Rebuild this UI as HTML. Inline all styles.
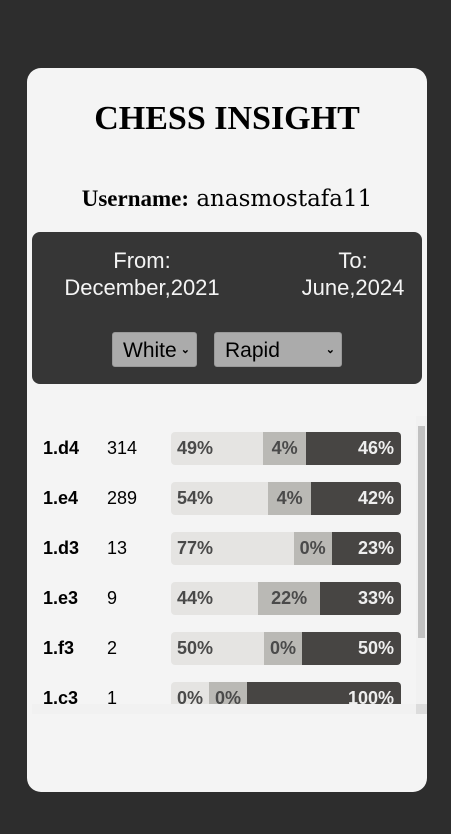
<!DOCTYPE html>
<html><head><meta charset="utf-8"><style>
body{margin:0;width:451px;height:834px;background:#2d2d2d;position:relative;overflow:hidden;font-family:"Liberation Sans",sans-serif}
#card{position:absolute;left:27px;top:68px;width:400px;height:724px;background:#f4f4f4;border-radius:14px}
#title{position:absolute;left:27px;width:400px;top:99px;text-align:center;font:bold 34px "Liberation Serif",serif;color:#000;margin:0;line-height:40px}
#user{position:absolute;left:27px;width:400px;top:186px;text-align:center;font:23px "DejaVu Serif","Liberation Serif",serif;color:#000}
#panel{position:absolute;left:32px;top:232px;width:390px;height:152px;background:#363636;border-radius:8px;color:#f4f4f4}
.dt{position:absolute;top:15px;text-align:center;font-size:22px;line-height:27px;transform:translateX(-50%);white-space:nowrap}
.sel{position:absolute;top:100px;height:35px;background:#ababab;border:1px solid #999;border-radius:3px;color:#000;font-size:21px;line-height:35px;box-sizing:border-box;padding-left:10px}
.sel span.ch{position:absolute;right:6px;top:0;font-size:11px;font-weight:bold}
#scroll{position:absolute;left:32px;top:416px;width:384px;height:288px;overflow:hidden}
.row{position:absolute;left:0;height:33px;width:384px}
.mv{position:absolute;left:11px;top:0;line-height:33px;font-weight:bold;font-size:18px;color:#000}
.ct{position:absolute;left:75px;top:0;line-height:33px;font-size:18px;color:#000}
.bar{position:absolute;left:139px;top:0;width:230px;height:33px;border-radius:4px;overflow:hidden;display:flex}
.seg{height:33px;line-height:33px;font-weight:bold;font-size:18px;box-sizing:border-box;white-space:nowrap;flex:none}
.w{background:#e5e4e2;color:#4a4a4a;padding-left:6px}
.d{background:#bab9b5;color:#4a4a4a;text-align:center}
.b{background:#474543;color:#eee;text-align:right;padding-right:7px}
#vs{position:absolute;left:416px;top:416px;width:11px;height:288px;background:#f1f1f1}
#vt{position:absolute;left:418px;top:426px;width:7px;height:212px;background:#c1c1c1}
#hs{position:absolute;left:32px;top:704px;width:384px;height:10px;background:#f1f1f1}
#cn{position:absolute;left:416px;top:704px;width:11px;height:10px;background:#dcdcdc}
</style></head><body>
<div id="card"></div>
<div id="title">CHESS INSIGHT</div>
<div id="user"><b style="font-family:'Liberation Serif',serif">Username:</b> anasmostafa11</div>
<div id="panel">
<div class="dt" style="left:110px">From:<br>December,2021</div>
<div class="dt" style="left:321px">To:<br>June,2024</div>
<div class="sel" style="left:80px;width:85px">White<span class="ch">&#8964;</span></div>
<div class="sel" style="left:182px;width:128px">Rapid<span class="ch">&#8964;</span></div>
</div>
<div id="scroll"></div>
<div id="vs"></div>
<div id="vt"></div>
<div id="hs"></div>
<div id="cn"></div>
<script>
const moves=["1.d4","1.e4","1.d3","1.e3","1.f3","1.c3"];
const counts=[314,289,13,9,2,1];
const winPct=[49,54,77,44,50,0];
const drawPct=[4,4,0,22,0,0];
const lossPct=[46,42,23,33,50,100];
const sc=document.getElementById('scroll');
const BAR_W=230, BASES=[38,38,44];
moves.forEach((m,i)=>{
  const r=document.createElement('div');r.className='row';r.style.top=(16+i*50)+'px';
  
  
  r.innerHTML='<div class="mv">'+m+'</div><div class="ct">'+counts[i]+'</div>';
  const bar=document.createElement('div');bar.className='bar';
  
  
  const vals=[winPct[i],drawPct[i],lossPct[i]];
  const tot=vals[0]+vals[1]+vals[2]||1;
  const free=BAR_W-BASES[0]-BASES[1]-BASES[2];
  [['w','win-segment'],['d','draw-segment'],['b','loss-segment']].forEach(([c,n],k)=>{
    const s=document.createElement('div');s.className='seg '+c;
    s.style.width=(BASES[k]+free*vals[k]/tot)+'px';s.textContent=vals[k]+'%';
    
    
    bar.appendChild(s);
  });
  r.appendChild(bar);sc.appendChild(r);
});
</script>
</body></html>
